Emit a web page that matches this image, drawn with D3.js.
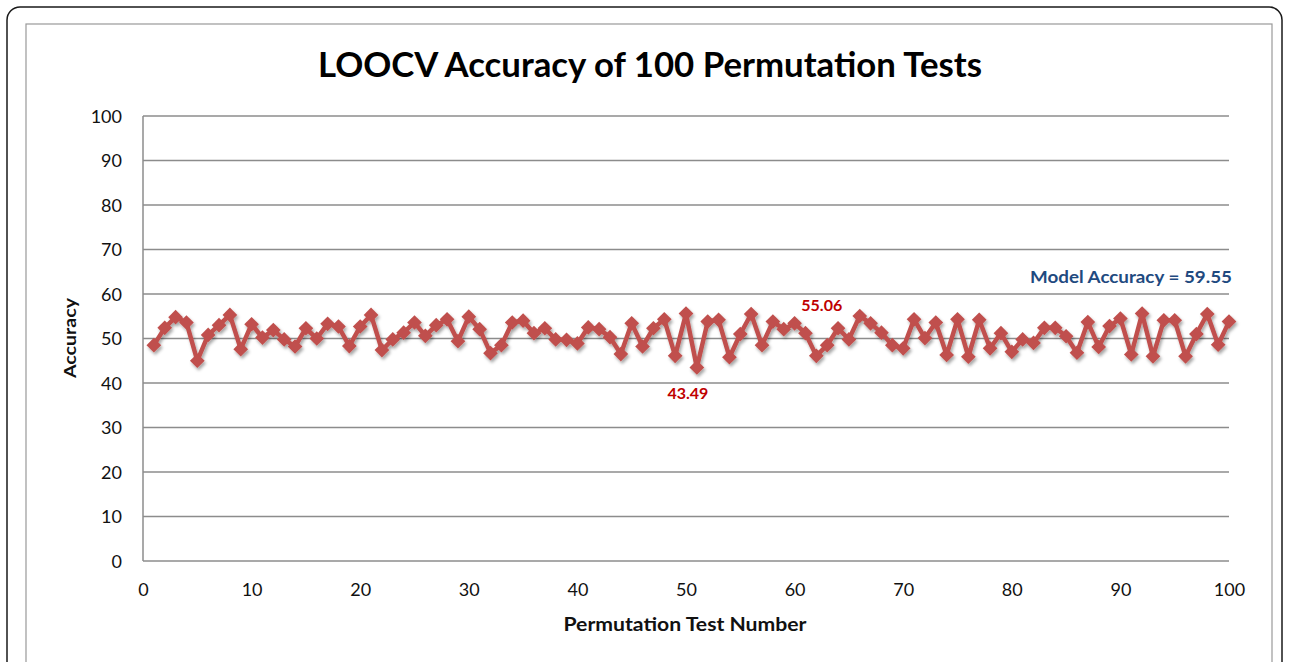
<!DOCTYPE html>
<html><head><meta charset="utf-8">
<script src="https://cdn.jsdelivr.net/npm/d3@7"></script>
<style>html,body{margin:0;padding:0;background:#fff;}svg{display:block;}</style>
</head><body>
<script>
// ---- data ----
const testNumbers = d3.range(1, 101);
const accuracies = [
 48.5,52.4,54.8,53.6,45.0,50.8,53.0,55.3,47.6,53.2,
 50.2,51.9,49.8,48.2,52.3,50.0,53.3,52.7,48.3,52.7,
 55.3,47.4,49.8,51.3,53.6,50.6,53.0,54.3,49.4,54.9,
 52.1,46.7,48.5,53.6,54.0,51.2,52.3,49.8,49.7,48.9,
 52.5,52.1,50.3,46.5,53.4,48.2,52.3,54.3,46.1,55.6,
 43.49,53.8,54.2,45.8,51.0,55.5,48.5,53.8,52.1,53.4,
 51.2,46.1,48.5,52.3,49.8,55.06,53.4,51.3,48.5,47.8,
 54.3,50.1,53.6,46.3,54.3,45.9,54.2,47.8,51.2,47.0,
 49.8,49.0,52.4,52.4,50.5,46.8,53.7,48.1,52.8,54.5,
 46.4,55.6,46.0,54.1,54.1,46.0,51.0,55.5,48.6,53.8];
const modelAccuracy = 59.55;
const labelledTests = [51, 66];
const yTicks = [0,10,20,30,40,50,60,70,80,90,100];
const xTicks = [0,10,20,30,40,50,60,70,80,90,100];
const titleText = "LOOCV Accuracy of 100 Permutation Tests";
const xTitle = "Permutation Test Number";
const yTitle = "Accuracy";

// ---- drawing ----
const W = 1289, H = 662;
const svg = d3.select("body").append("svg").attr("width", W).attr("height", H);
const font = "Lato, 'Open Sans', sans-serif";

const defs = svg.append("defs");
const f = defs.append("filter").attr("id","shadow").attr("x","-5%").attr("y","-50%").attr("width","110%").attr("height","200%");
f.append("feDropShadow").attr("dx",1.5).attr("dy",2.5).attr("stdDeviation",1.5).attr("flood-color","#000").attr("flood-opacity",0.35);

svg.append("rect").attr("x",7).attr("y",7).attr("width",1275).attr("height",720).attr("rx",13)
  .attr("fill","#fff").attr("stroke","#1a1a1a").attr("stroke-width",1.5);
svg.append("rect").attr("x",26).attr("y",24).attr("width",1246).attr("height",720)
  .attr("fill","#fff").attr("stroke","#999").attr("stroke-width",1.2);

const x = d3.scaleLinear().domain([0,100]).range([143,1229]);
const y = d3.scaleLinear().domain([0,100]).range([561,116]);

// gridlines
svg.append("g").selectAll("line").data(yTicks).join("line")
  .attr("x1",x(0)).attr("x2",x(100)).attr("y1",d=>y(d)).attr("y2",d=>y(d))
  .attr("stroke","#8c8c8c").attr("stroke-width",1.5);
// y axis line
svg.append("line").attr("x1",x(0)).attr("x2",x(0)).attr("y1",y(0)).attr("y2",y(100))
  .attr("stroke","#8c8c8c").attr("stroke-width",1.5);

// axes tick labels via d3 axes
const yAxis = svg.append("g").attr("transform",`translate(${x(0)-13},0)`)
  .call(d3.axisLeft(y).tickValues(yTicks).tickSize(0).tickPadding(8));
yAxis.select(".domain").remove();
yAxis.selectAll("text").attr("font-family",font).attr("font-size",18).attr("fill","#111").attr("dy","0.36em");

const xAxis = svg.append("g").attr("transform",`translate(0,${y(0)+13})`)
  .call(d3.axisBottom(x).tickValues(xTicks).tickSize(0).tickPadding(9));
xAxis.select(".domain").remove();
xAxis.selectAll("text").attr("font-family",font).attr("font-size",18).attr("fill","#111");

// model accuracy line
svg.append("line").attr("x1",x(0)).attr("x2",x(100)).attr("y1",y(modelAccuracy)).attr("y2",y(modelAccuracy))
  .attr("stroke","#4a7ebb").attr("stroke-width",5).attr("stroke-linecap","round").attr("filter","url(#shadow)");
svg.append("text").attr("x",x(100)+3).attr("y",y(modelAccuracy)-13).attr("text-anchor","end")
  .attr("font-family",font).attr("font-weight","bold").attr("font-size",17)
  .attr("textLength",202).attr("lengthAdjust","spacingAndGlyphs").attr("fill","#1f4a80")
  .text("Model Accuracy = " + modelAccuracy.toFixed(2));

// data line
const pts = testNumbers.map((t,i)=>({t, v: accuracies[i]}));
const g = svg.append("g").attr("filter","url(#shadow)");
g.append("path").datum(pts)
  .attr("d", d3.line().x(d=>x(d.t)).y(d=>y(d.v)))
  .attr("fill","none").attr("stroke","#c0504d").attr("stroke-width",4.5).attr("stroke-linejoin","round");
g.selectAll("path.m").data(pts).join("path").attr("class","m")
  .attr("transform",d=>`translate(${x(d.t)},${y(d.v)}) rotate(45)`)
  .attr("d", d3.symbol().type(d3.symbolSquare).size(108))
  .attr("fill","#c0504d");

// data labels
const labelOffsets = {51: [-9, 32], 66: [-38, -5]};
svg.append("g").selectAll("text").data(pts.filter(p=>labelledTests.includes(p.t))).join("text")
  .attr("x",d=>x(d.t)+labelOffsets[d.t][0]).attr("y",d=>y(d.v)+labelOffsets[d.t][1])
  .attr("text-anchor","middle").attr("font-family",font).attr("font-weight","bold").attr("font-size",16)
  .attr("fill","#c00000").text(d=>d.v.toFixed(2));

// titles
svg.append("text").attr("x",650).attr("y",77).attr("text-anchor","middle")
  .attr("font-family",font).attr("font-weight","bold").attr("font-size",35)
  .attr("textLength",664).attr("lengthAdjust","spacingAndGlyphs").attr("fill","#000").text(titleText);
svg.append("text").attr("x",685).attr("y",631).attr("text-anchor","middle")
  .attr("font-family",font).attr("font-weight","bold").attr("font-size",18)
  .attr("textLength",243).attr("lengthAdjust","spacingAndGlyphs").attr("fill","#111").text(xTitle);
svg.append("text").attr("transform","translate(76,338) rotate(-90)").attr("text-anchor","middle")
  .attr("font-family",font).attr("font-weight","bold").attr("font-size",17)
  .attr("textLength",80).attr("lengthAdjust","spacingAndGlyphs").attr("fill","#111").text(yTitle);
</script>
</body></html>
